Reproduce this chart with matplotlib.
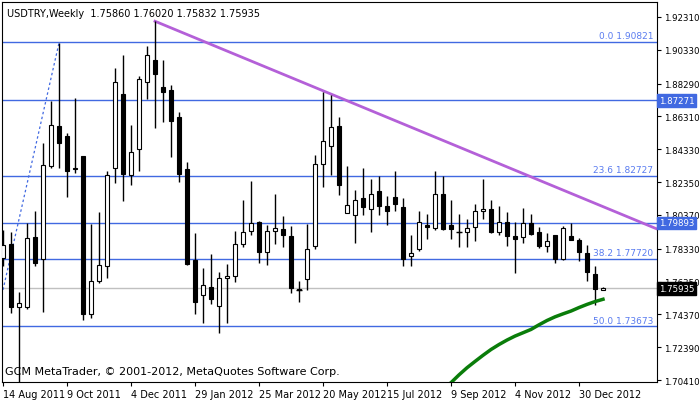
import numpy as np
import matplotlib
matplotlib.use('Agg')
import matplotlib.pyplot as plt

# weekly USDTRY candles, 14 Aug 2011 .. 13 Jan 2013
opens = [1.7776, 1.7863, 1.7480, 1.7484, 1.7903, 1.7772, 1.8334, 1.8575, 1.8511, 1.8319,
         1.8390, 1.7440, 1.7639, 1.7726, 1.8319, 1.8768, 1.8279, 1.8434, 1.8839, 1.8974,
         1.8809, 1.8792, 1.8625, 1.8315, 1.7766, 1.7555, 1.7605, 1.7488, 1.7655, 1.7669,
         1.7863, 1.7937, 1.7997, 1.7816, 1.7937, 1.7951, 1.7911, 1.7589, 1.7649, 1.7850,
         1.8344, 1.8454, 1.8575, 1.8048, 1.8038, 1.8138, 1.8072, 1.8179, 1.8092, 1.8144,
         1.8084, 1.7786, 1.7830, 1.7977, 1.7957, 1.8162, 1.7977, 1.7935, 1.7933, 1.7963,
         1.8062, 1.8072, 1.7933, 1.7993, 1.7907, 1.7903, 1.7987, 1.7933, 1.7850, 1.7917,
         1.7772, 1.7907, 1.7887, 1.7806, 1.7679, 1.75860]
highs = [1.7947, 1.7933, 1.7569, 1.7991, 1.8058, 1.8470, 1.8722, 1.9074, 1.8531, 1.8742,
         1.8394, 1.7983, 1.8052, 1.8303, 1.8923, 1.9004, 1.8581, 1.8873, 1.9054, 1.9205,
         1.8974, 1.8823, 1.8656, 1.8356, 1.7927, 1.7716, 1.7802, 1.7695, 1.7740, 1.7937,
         1.8128, 1.8239, 1.8001, 1.7977, 1.8164, 1.8032, 1.7971, 1.7639, 1.7983, 1.8400,
         1.8776, 1.8762, 1.8625, 1.8329, 1.8185, 1.8319, 1.8255, 1.8269, 1.8148, 1.8299,
         1.8138, 1.7917, 1.8058, 1.8044, 1.8299, 1.8269, 1.8128, 1.8044, 1.8013, 1.8104,
         1.8255, 1.8128, 1.8088, 1.8052, 1.7997, 1.8078, 1.8044, 1.7963, 1.7927, 1.7917,
         1.7967, 1.7991, 1.7897, 1.7856, 1.7726, 1.76020]
lows = [1.7726, 1.7444, 1.7021, 1.7468, 1.7726, 1.7450, 1.8319, 1.8319, 1.8144, 1.8289,
        1.7404, 1.7414, 1.7629, 1.7655, 1.8229, 1.8118, 1.8219, 1.8299, 1.8736, 1.8561,
        1.8595, 1.8386, 1.8233, 1.7736, 1.7440, 1.7383, 1.7500, 1.7323, 1.7383, 1.7635,
        1.7842, 1.7917, 1.7746, 1.7732, 1.7861, 1.7842, 1.7565, 1.7510, 1.7585, 1.7830,
        1.8203, 1.8275, 1.8154, 1.8048, 1.7867, 1.8038, 1.7933, 1.8038, 1.7973, 1.8058,
        1.7726, 1.7726, 1.7822, 1.7891, 1.7947, 1.7947, 1.7893, 1.7842, 1.7842, 1.7877,
        1.8013, 1.7927, 1.7913, 1.7852, 1.7685, 1.7867, 1.7917, 1.7836, 1.7816, 1.7746,
        1.7762, 1.7883, 1.7756, 1.7641, 1.7494, 1.75832]
closes = [1.7856, 1.7484, 1.7504, 1.7897, 1.7746, 1.8340, 1.8581, 1.8470, 1.8299, 1.8315,
          1.7438, 1.7639, 1.7736, 1.8279, 1.8839, 1.8283, 1.8416, 1.8859, 1.9004, 1.8887,
          1.8776, 1.8601, 1.8283, 1.7742, 1.7514, 1.7615, 1.7528, 1.7659, 1.7669, 1.7861,
          1.7933, 1.7987, 1.7812, 1.7941, 1.7957, 1.7913, 1.7595, 1.7585, 1.7832, 1.8346,
          1.8485, 1.8567, 1.8215, 1.8098, 1.8124, 1.8084, 1.8162, 1.8088, 1.8058, 1.8102,
          1.7772, 1.7806, 1.7993, 1.7961, 1.8162, 1.7953, 1.7951, 1.7933, 1.7957, 1.8062,
          1.8072, 1.7933, 1.7993, 1.7907, 1.7891, 1.7987, 1.7923, 1.7852, 1.7881, 1.7770,
          1.7957, 1.7883, 1.7812, 1.7691, 1.7589, 1.75935]

# moving average (green)
ma_idx = [55, 56, 57, 58, 59, 60, 61, 62, 63, 64, 65, 66, 67, 68, 69, 70, 71, 72, 73, 74, 75]
ma_val = [1.6985, 1.7025, 1.7072, 1.7115, 1.7153, 1.7190, 1.7225, 1.7255, 1.7282, 1.7306,
          1.7326, 1.7346, 1.7374, 1.7400, 1.7422, 1.7440, 1.7457, 1.7478, 1.7497, 1.7514, 1.7528]

# trend line and fibonacci base line
trend_idx = [19, 81.75]
trend_val = [1.9205, 1.7952]
fib_idx = [0, 7]
fib_val = [1.7585, 1.9074]
fib_levels = [(0.0, 1.90821), (23.6, 1.82727), (38.2, 1.77720), (50.0, 1.73673), (61.8, 1.69620)]
hlines = [1.87271, 1.79893]
last_price = 1.75935

yticks = [1.92310, 1.90330, 1.88290, 1.86310, 1.84330, 1.82350, 1.80370,
          1.78330, 1.76350, 1.74370, 1.72390, 1.70410]
date_labels = ['14 Aug 2011', '9 Oct 2011', '4 Dec 2011', '29 Jan 2012', '25 Mar 2012',
               '20 May 2012', '15 Jul 2012', '9 Sep 2012', '4 Nov 2012', '30 Dec 2012']

line_blue = '#4169e1'
txt_blue = '#5a7cf0'

fig = plt.figure(figsize=(7, 4.02), dpi=100)
ax = fig.add_axes([2/700, 19/402, 655/700, 380/402])
ax.set_xlim(-0.125, 81.75)
ax.set_ylim(1.7029, 1.9321)

for lvl, price in fib_levels:
    ax.axhline(price, color=line_blue, lw=1, zorder=1)
    ax.text(81.3, price + 0.0008, f'{lvl:.1f} {price:.5f}', color=txt_blue,
            ha='right', va='bottom', fontsize=6.5, zorder=5, clip_on=True)
for price in hlines:
    ax.axhline(price, color=line_blue, lw=1, zorder=1)
ax.axhline(last_price, color='#c0c0c0', lw=1, zorder=1)

ax.plot(fib_idx, fib_val, color=line_blue, lw=0.9, ls=(0, (2, 2)), zorder=2)
ax.plot(trend_idx, trend_val, color='#b460d8', lw=2, zorder=2)
ax.plot(ma_idx, ma_val, color='#0a7d0a', lw=2.5, zorder=4)

x = np.arange(len(opens))
o = np.array(opens); c = np.array(closes)
ax.vlines(x, lows, highs, color='black', lw=1, zorder=3)
bottom = np.minimum(o, c)
height = np.abs(c - o)
colors = ['white' if cc >= oo else 'black' for oo, cc in zip(o, c)]
ax.bar(x, height, bottom=bottom, width=0.6, color=colors, edgecolor='black',
       linewidth=0.8, zorder=3)
doji = height < 0.0004
ax.hlines(c[doji], x[doji] - 0.35, x[doji] + 0.35, color='black', lw=1, zorder=3)

ax.yaxis.tick_right()
ax.set_yticks(yticks)
ax.set_yticklabels([f'{t:.5f}' for t in yticks])
ax.tick_params(axis='y', length=3, labelsize=6.2, pad=2)
ax.set_xticks(np.arange(0, 80, 8))
ax.set_xticklabels(date_labels, ha='left')
ax.tick_params(axis='x', length=3, labelsize=7, pad=2)

def price_box(price, bg):
    ax.text(1.003, price, f'{price:.5f}', transform=ax.get_yaxis_transform(),
            color='white', fontsize=6.2, va='center', ha='left',
            bbox=dict(boxstyle='square,pad=0.2', fc=bg, ec=bg), clip_on=False, zorder=6)

for price in hlines:
    price_box(price, line_blue)
price_box(last_price, 'black')

ax.text(0.008, 0.985, 'USDTRY,Weekly  1.75860 1.76020 1.75832 1.75935', transform=ax.transAxes,
        fontsize=7, va='top', ha='left')
ax.text(0.005, 0.015, 'GCM MetaTrader, \u00a9 2001-2012, MetaQuotes Software Corp.',
        transform=ax.transAxes, fontsize=8, va='bottom', ha='left')

for s in ax.spines.values():
    s.set_color('black')
    s.set_linewidth(0.8)

fig.savefig('out.png', dpi=100)
